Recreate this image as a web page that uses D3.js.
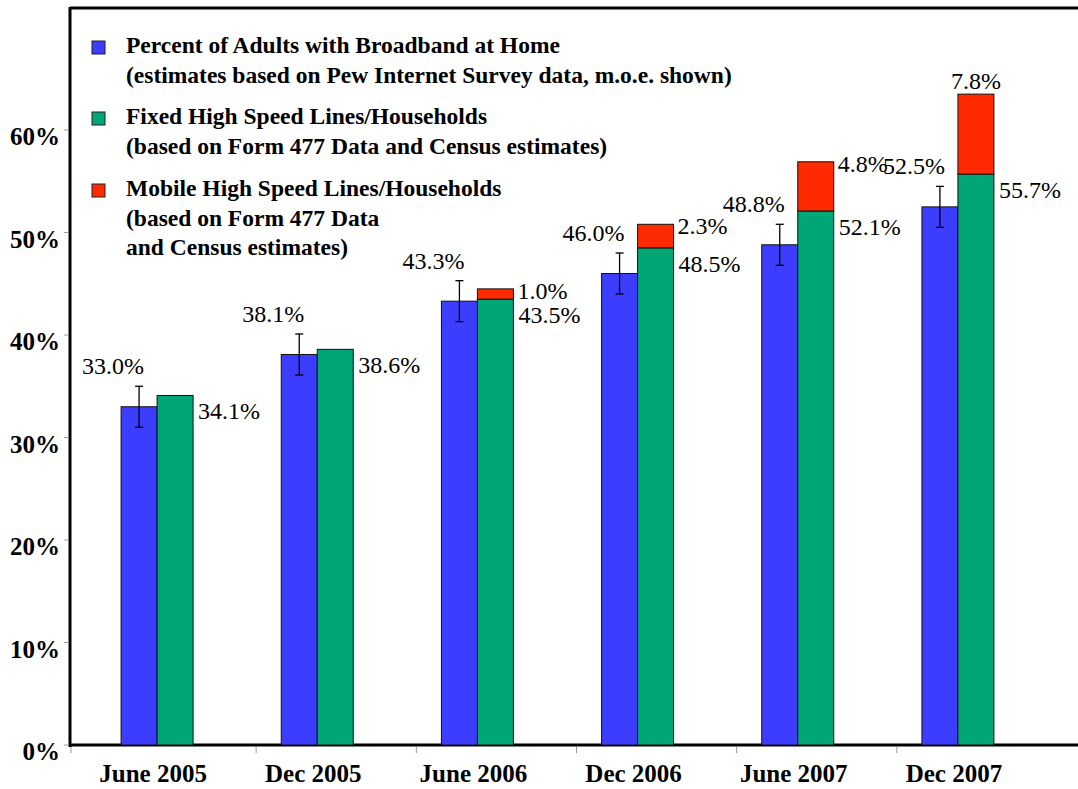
<!DOCTYPE html>
<html lang="en">
<head>
  <meta charset="UTF-8">
  <title>Broadband adoption</title>
<style>
    body { margin: 0; background: #fff; }
    .bar { stroke: #111; stroke-width: 1px; }
    .axisline { stroke: #000; stroke-width: 3px; }
    .tick { stroke: #999; stroke-width: 1px; }
</style>
</head>
<body>

<div id="chart"></div>

<script src="https://d3js.org/d3.v7.min.js"></script>

<script>
/* global d3 */

var periods = ["June 2005", "Dec 2005", "June 2006", "Dec 2006", "June 2007", "Dec 2007"];
var adults = [33.0, 38.1, 43.3, 46.0, 48.8, 52.5];
var adultsMoe = [2.0, 2.0, 2.0, 2.0, 2.0, 2.0];
var fixedLines = [34.1, 38.6, 43.5, 48.5, 52.1, 55.7];
var mobileLines = [0, 0, 1.0, 2.3, 4.8, 7.8];
var yTicks = [0, 10, 20, 30, 40, 50, 60];

var legendItems = [
  {color: "#3d3dff", lines: ["Percent of Adults with Broadband at Home", "(estimates based on Pew Internet Survey data, m.o.e. shown)"]},
  {color: "#00a676", lines: ["Fixed High Speed Lines/Households", "(based on Form 477 Data and Census estimates)"]},
  {color: "#ff2a00", lines: ["Mobile High Speed Lines/Households", "(based on Form 477 Data", "and Census estimates)"]}
];

var FONT = '"Liberation Serif", "Times New Roman", serif';

var width = 1078;
var height = 789;

var svg = d3.select("#chart")
    .append("svg")
    .attr("width", width)
    .attr("height", height);

var x = d3.scaleBand()
    .domain(periods)
    .range([77, 1038]);

var y = d3.scaleLinear()
    .domain([0, 60])
    .range([745, 130]);

var barW = 36;
var fmt = function(v) { return v.toFixed(1) + "%"; };

// frame
svg.append("line").attr("class", "axisline")
    .attr("x1", 70).attr("x2", width).attr("y1", 8).attr("y2", 8);
svg.append("line").attr("class", "axisline")
    .attr("x1", 70).attr("x2", 70).attr("y1", 7).attr("y2", 747);
svg.append("line").attr("class", "axisline")
    .attr("x1", 69).attr("x2", width).attr("y1", y(0)).attr("y2", y(0));

// y ticks + labels
svg.selectAll(".ytick")
  .data(yTicks)
  .enter().append("line")
    .attr("class", "tick")
    .attr("x1", 64).attr("x2", 69)
    .attr("y1", d => y(d)).attr("y2", d => y(d));

svg.selectAll(".ylab")
  .data(yTicks)
  .enter().append("text")
    .attr("x", 60)
    .attr("y", d => y(d) + 15)
    .attr("text-anchor", "end")
    .style("font-family", FONT)
    .style("font-size", "25px")
    .style("font-weight", "bold")
    .text(d => d + "%");

// x ticks + labels
var xTickPos = [71].concat(periods.slice(0, 5).map(p => x(p) + x.bandwidth() + 19));
svg.selectAll(".xtick")
  .data(xTickPos)
  .enter().append("line")
    .attr("class", "tick")
    .attr("x1", d => d).attr("x2", d => d)
    .attr("y1", y(0) + 2).attr("y2", y(0) + 8);

svg.selectAll(".xlab")
  .data(periods)
  .enter().append("text")
    .attr("x", d => x(d) + x.bandwidth() / 2 - 4)
    .attr("y", 782)
    .attr("text-anchor", "middle")
    .style("font-family", FONT)
    .style("font-size", "25px")
    .style("font-weight", "bold")
    .text(d => d);

var rows = periods.map(function(p, i) {
  return {
    period: p,
    adults: adults[i],
    moe: adultsMoe[i],
    fixed: fixedLines[i],
    mobile: mobileLines[i],
    cx: x(p) + x.bandwidth() / 2
  };
});

// bars
var g = svg.selectAll(".grp")
  .data(rows)
  .enter().append("g");

g.append("rect")
    .attr("class", "bar")
    .attr("x", d => d.cx - barW)
    .attr("y", d => y(d.adults))
    .attr("width", barW)
    .attr("height", d => y(0) - y(d.adults))
    .attr("fill", legendItems[0].color);

g.append("rect")
    .attr("class", "bar")
    .attr("x", d => d.cx)
    .attr("y", d => y(d.fixed))
    .attr("width", barW)
    .attr("height", d => y(0) - y(d.fixed))
    .attr("fill", legendItems[1].color);

g.filter(d => d.mobile > 0).append("rect")
    .attr("class", "bar")
    .attr("x", d => d.cx)
    .attr("y", d => y(d.fixed + d.mobile))
    .attr("width", barW)
    .attr("height", d => y(d.fixed) - y(d.fixed + d.mobile))
    .attr("fill", legendItems[2].color);

// error bars
var eb = g.append("g").attr("stroke", "#000").attr("stroke-width", 1.3);
eb.append("line")
    .attr("x1", d => d.cx - barW / 2).attr("x2", d => d.cx - barW / 2)
    .attr("y1", d => y(d.adults + d.moe)).attr("y2", d => y(d.adults - d.moe));
eb.append("line")
    .attr("x1", d => d.cx - barW / 2 - 4).attr("x2", d => d.cx - barW / 2 + 4)
    .attr("y1", d => y(d.adults + d.moe)).attr("y2", d => y(d.adults + d.moe));
eb.append("line")
    .attr("x1", d => d.cx - barW / 2 - 4).attr("x2", d => d.cx - barW / 2 + 4)
    .attr("y1", d => y(d.adults - d.moe)).attr("y2", d => y(d.adults - d.moe));

// value labels: regular serif only renders as serif at small sizes here,
// so draw at 20px and scale up
function valText(sel, px, py, anchor) {
  sel.attr("transform", d => "translate(" + px(d) + "," + py(d) + ") scale(1.2)")
     .attr("text-anchor", anchor)
     .style("font-family", FONT)
     .style("font-size", "20px")
     .style("font-weight", "normal");
}

g.append("text")
    .call(valText, d => d.cx - barW / 2 + 5, d => y(d.adults + d.moe) - 12, "end")
    .text(d => fmt(d.adults));

g.append("text")
    .call(valText, d => d.cx + barW + 5, d => y(d.fixed) + 24, "start")
    .text(d => fmt(d.fixed));

var last = periods[periods.length - 1];
g.filter(d => d.mobile > 0).append("text")
    .call(valText,
      d => d.period === last ? d.cx + barW / 2 : d.cx + barW + 4,
      d => d.period === last ? y(d.fixed + d.mobile) - 5 : y(d.fixed + d.mobile) + 10,
      "start")
    .attr("text-anchor", d => d.period === last ? "middle" : "start")
    .text(d => fmt(d.mobile));

// legend
var legendTop = [41, 112, 184];
var leg = svg.selectAll(".leg")
  .data(legendItems)
  .enter().append("g")
    .attr("transform", (d, i) => "translate(92," + legendTop[i] + ")");

leg.append("rect")
    .attr("width", 13).attr("height", 13)
    .attr("fill", d => d.color)
    .attr("stroke", "#222").attr("stroke-width", 1);

leg.each(function(d) {
  d3.select(this).selectAll("text")
    .data(d.lines)
    .enter().append("text")
      .attr("x", 34)
      .attr("y", (t, j) => 12 + j * 29.5)
      .style("font-family", FONT)
      .style("font-size", "23.5px")
      .style("font-weight", "bold")
      .text(t => t);
});

</script>

</body>
</html>
